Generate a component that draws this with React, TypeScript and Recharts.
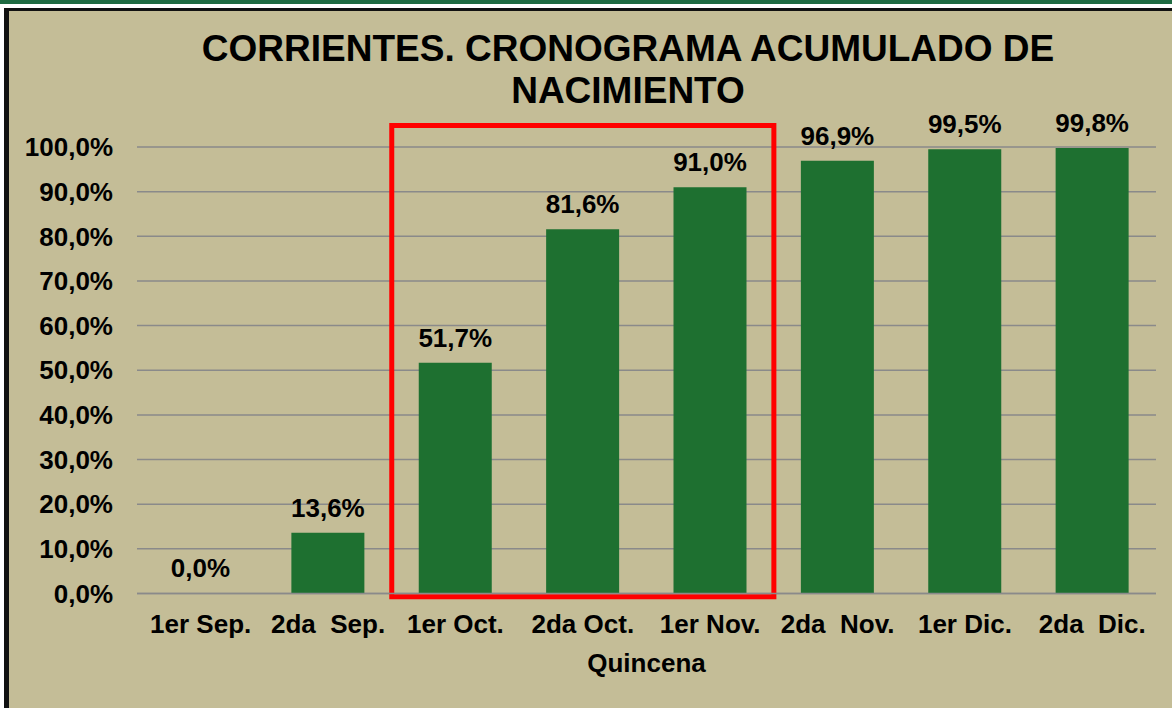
import { BarChart, Bar, XAxis, YAxis, CartesianGrid, LabelList, ReferenceArea, Label } from "recharts"

const quincenas = [
  "1er Sep.",
  "2da\u00A0 Sep.",
  "1er Oct.",
  "2da Oct.",
  "1er Nov.",
  "2da\u00A0 Nov.",
  "1er Dic.",
  "2da\u00A0 Dic.",
]
const acumulado = [0, 13.6, 51.7, 81.6, 91.0, 96.9, 99.5, 99.8]
const yTicks = [0, 10, 20, 30, 40, 50, 60, 70, 80, 90, 100]
const highlightFrom = "1er Oct."
const highlightTo = "1er Nov."

const chartData = quincenas.map((q, i) => ({ quincena: q, value: acumulado[i] }))

const FONT = "'Liberation Sans', Arial, Helvetica, sans-serif"
const BG = "#C4BD97"
const BAR = "#1E7030"
const GRID = "#8a8a8a"

const pct = (v: number | string) => `${Number(v).toFixed(1).replace(".", ",")}%`

// a zero bar gets no label otherwise, so give it a hair of height
const minSize = (v: number) => (v === 0 ? 0.01 : 0)

export default function App() {
  return (
    <div style={{ position: "relative", width: 1172, height: 708, background: "#fff", overflow: "hidden", fontFamily: FONT }}>
      <style>{`body{margin:0}`}</style>
      <div style={{ position: "absolute", left: 0, top: 0, width: 1172, height: 4, background: "#1f6b42" }} />
      <div
        style={{
          position: "absolute",
          left: 4,
          top: 8,
          width: 1168,
          height: 700,
          boxSizing: "border-box",
          borderTop: "3px solid #111",
          borderLeft: "5px solid #111",
          background: BG,
        }}
      />
      <div
        style={{
          position: "absolute",
          left: 128,
          top: 28,
          width: 1000,
          textAlign: "center",
          fontSize: 37,
          lineHeight: "42px",
          fontWeight: "bold",
          color: "#000",
        }}
      >
        CORRIENTES. CRONOGRAMA ACUMULADO DE
        <br />
        NACIMIENTO
      </div>
      <div style={{ position: "absolute", left: 0, top: 0 }}>
        <BarChart
          width={1172}
          height={708}
          data={chartData}
          margin={{ top: 147, right: 16, bottom: 24.5, left: 0 }}
        >
          <CartesianGrid horizontal vertical={false} stroke={GRID} strokeWidth={1.5} />
          <XAxis
            dataKey="quincena"
            height={90}
            axisLine={{ stroke: GRID, strokeWidth: 1.5 }}
            tickLine={false}
            tickSize={6}
            tickMargin={15}
            interval={0}
            tick={{ fill: "#000", fontSize: 26, fontWeight: "bold", fontFamily: FONT }}
          >
            <Label
              value="Quincena"
              position="insideBottom"
              offset={11.5}
              style={{ fill: "#000", fontSize: 26, fontWeight: "bold", fontFamily: FONT }}
            />
          </XAxis>
          <YAxis
            width={137}
            domain={[0, 100]}
            ticks={yTicks}
            axisLine={false}
            tickLine={false}
            tickSize={6}
            tickMargin={18}
            tickFormatter={pct}
            tick={{ fill: "#000", fontSize: 26, fontWeight: "bold", fontFamily: FONT }}
          />
          <Bar dataKey="value" fill={BAR} barSize={73} minPointSize={minSize} isAnimationActive={false}>
            <LabelList
              dataKey="value"
              position="top"
              offset={16}
              formatter={pct}
              style={{ fill: "#000", fontSize: 26, fontWeight: "bold", fontFamily: FONT }}
            />
          </Bar>
          <ReferenceArea
            x1={highlightFrom}
            x2={highlightTo}
            y1={-0.7}
            y2={104.8}
            ifOverflow="visible"
            fill="none"
            fillOpacity={0}
            stroke="#ff0000"
            strokeWidth={5}
          />
        </BarChart>
      </div>
    </div>
  )
}
